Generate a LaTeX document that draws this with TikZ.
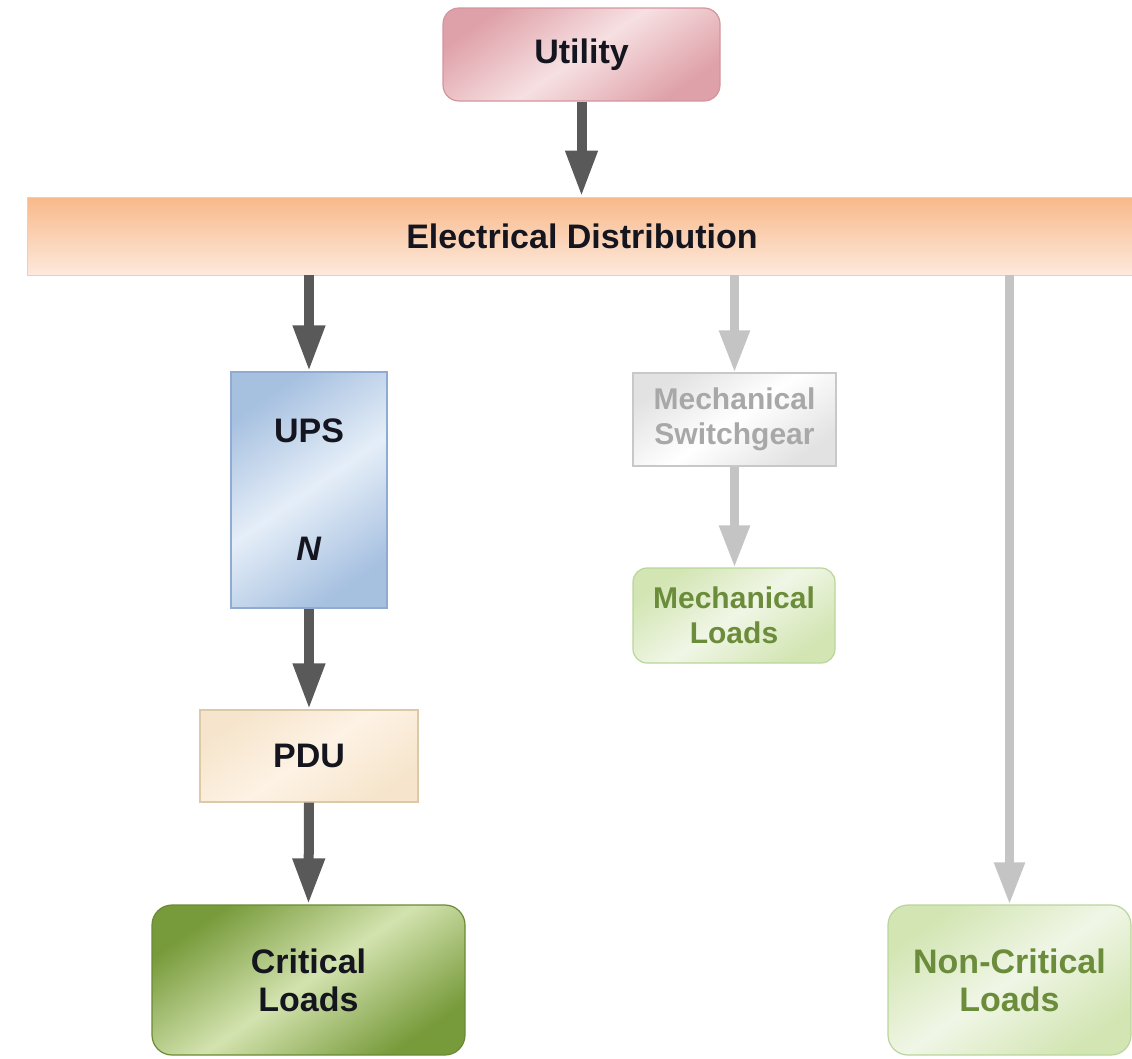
\documentclass[tikz,border=0pt]{standalone}
\usepackage{fontspec}
\setmainfont{Liberation Sans}
\usetikzlibrary{arrows.meta}

% palette
\definecolor{utilEdge}{HTML}{DFA1A9}
\definecolor{utilMid}{HTML}{F6E0E2}
\definecolor{utilLine}{HTML}{D4959C}
\definecolor{barTop}{HTML}{F8B98A}
\definecolor{barBot}{HTML}{FDE9DC}
\definecolor{barLine}{HTML}{F4CDAE}
\definecolor{upsEdge}{HTML}{A6C0E0}
\definecolor{upsMid}{HTML}{E5EEF8}
\definecolor{upsLine}{HTML}{8FABD1}
\definecolor{pduEdge}{HTML}{F6E5CC}
\definecolor{pduMid}{HTML}{FDF2E4}
\definecolor{pduLine}{HTML}{DCC9A8}
\definecolor{critEdge}{HTML}{779A3A}
\definecolor{critMid}{HTML}{D3E3AF}
\definecolor{critLine}{HTML}{6A8A34}
\definecolor{swEdge}{HTML}{E2E2E2}
\definecolor{swMid}{HTML}{FFFFFF}
\definecolor{swLine}{HTML}{C8C8C8}
\definecolor{swText}{HTML}{A8A8A8}
\definecolor{mlEdge}{HTML}{D2E5B2}
\definecolor{mlMid}{HTML}{F0F6E6}
\definecolor{mlLine}{HTML}{BAD59C}
\definecolor{mlText}{HTML}{6B8C3A}
\definecolor{darkArrow}{HTML}{595959}
\definecolor{lightArrow}{HTML}{C4C4C4}
\definecolor{ink}{HTML}{15151F}

\tikzset{
  box/.style={draw, line width=1.2pt, align=center, inner sep=0pt,
    font=\fontsize{34}{38}\selectfont\bfseries, text=ink},
  smalltext/.style={font=\fontsize{30}{35}\selectfont\bfseries},
  gloss/.style n args={3}{top color=#1, bottom color=#1, middle color=#2,
    shading angle=35, draw=#3},
  darrow/.style={draw=darkArrow, line width=10pt,
    -{Triangle[length=46pt, width=30pt]}},
  larrow/.style={draw=lightArrow, line width=8.5pt,
    -{Triangle[length=42pt, width=29pt]}},
}

\begin{document}
\begin{tikzpicture}[x=1pt, y=-1pt]
  \useasboundingbox (0,0) rectangle (1132,1058);

  % utility source
  \node[box, gloss={utilEdge}{utilMid}{utilLine}, rounded corners=16pt,
        minimum width=277pt, minimum height=93pt] (util) at (581.5,54.5) {Utility};

  % distribution bus
  \node[box, top color=barTop, bottom color=barBot, draw=barLine, line width=0.8pt,
        minimum width=1110pt, minimum height=78pt] (bar) at (582,236) {Electrical Distribution};

  % critical path
  \node[box, gloss={upsEdge}{upsMid}{upsLine},
        minimum width=156pt, minimum height=236pt] (ups) at (309,490)
        {UPS\\[80pt]\textit{N}};
  \node[box, gloss={pduEdge}{pduMid}{pduLine},
        minimum width=218pt, minimum height=92pt] (pdu) at (309,756) {PDU};
  \node[box, gloss={critEdge}{critMid}{critLine}, rounded corners=20pt,
        minimum width=313pt, minimum height=150pt] (crit) at (308.5,980)
        {Critical\\Loads};

  % mechanical path
  \node[box, smalltext, gloss={swEdge}{swMid}{swLine}, text=swText,
        minimum width=203pt, minimum height=93pt] (sw) at (734.5,419.5)
        {Mechanical\\Switchgear};
  \node[box, smalltext, gloss={mlEdge}{mlMid}{mlLine}, text=mlText, rounded corners=14pt,
        minimum width=202pt, minimum height=95pt] (ml) at (734,615.5)
        {Mechanical\\Loads};

  % non-critical path
  \node[box, gloss={mlEdge}{mlMid}{mlLine}, text=mlText, rounded corners=20pt,
        minimum width=243pt, minimum height=150pt] (nc) at (1009.5,980)
        {Non-Critical\\Loads};

  % connectors
  \draw[darrow] (util.south) -- (util.south |- bar.north);
  \draw[darrow] (bar.south -| ups.north) -- (ups.north);
  \draw[darrow] (ups.south) -- (pdu.north);
  \draw[darrow] (pdu.south) -- (crit.north);
  \draw[larrow] (bar.south -| sw.north) -- (sw.north);
  \draw[larrow] (sw.south) -- (sw.south |- ml.north);
  \draw[larrow] (bar.south -| nc.north) -- (nc.north);
\end{tikzpicture}
\end{document}
